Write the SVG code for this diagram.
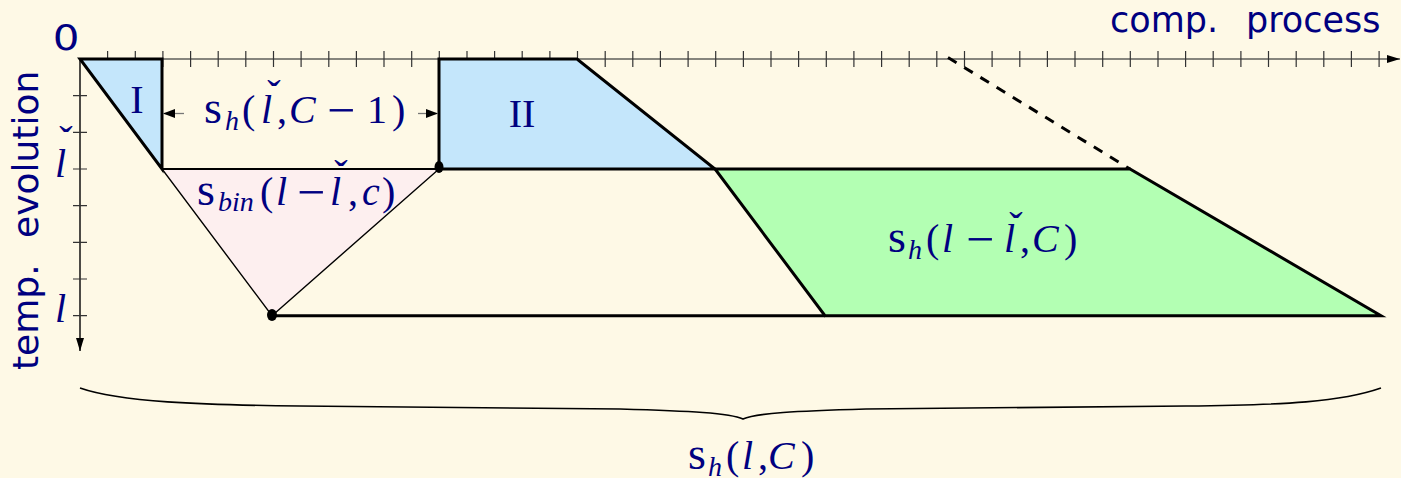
<svg xmlns="http://www.w3.org/2000/svg" width="1401" height="478" viewBox="0 0 1401 478">
<style>
.bg{fill:#fef9e6}
.ax{stroke:#5e5e5a;stroke-width:1.4;fill:none}
.tk{stroke:#333;stroke-width:1.2}
.thick{stroke:#000;stroke-width:3;fill:none;stroke-linejoin:miter}
.blue{fill:#c4e6fb;stroke:#000;stroke-width:3}
.green{fill:#b3ffb3;stroke:#000;stroke-width:3}
.pink{fill:#fdefef;stroke:#000;stroke-width:1.4}
.sans{font-family:"DejaVu Sans",sans-serif;fill:#000080}
.m{font-family:"Liberation Serif",serif;font-size:40px;fill:#000080}
.it{font-style:italic}
.s{font-size:46px}
.sub{font-size:28px;font-style:italic}
.mi{font-size:50px}
</style>
<defs>
<marker id="ah" viewBox="0 0 12 9" refX="12" refY="4.5" markerWidth="12" markerHeight="9" orient="auto" markerUnits="userSpaceOnUse"><path d="M0,0 L12,4.5 L0,9 Z" fill="#000"/></marker>
<marker id="axh" viewBox="0 0 13 8" refX="13" refY="4" markerWidth="13" markerHeight="8" orient="auto" markerUnits="userSpaceOnUse"><path d="M0,0 L13,4 L0,8 Z" fill="#000"/></marker>
</defs>
<rect class="bg" x="0" y="0" width="1401" height="478"/>

<g id="axes">
<line class="ax" x1="80" y1="59" x2="1400" y2="59" marker-end="url(#axh)"/>
<line x1="80" y1="59" x2="80" y2="351" stroke="#000" stroke-width="1.4" marker-end="url(#axh)"/>
<path class="tk" d="M107.6,51V67M135.3,51V67M162.9,51V67M190.6,51V67M218.2,51V67M245.8,51V67M273.5,51V67M301.1,51V67M328.8,51V67M356.4,51V67M384,51V67M411.7,51V67M439.3,51V67M467,51V67M494.6,51V67M522.2,51V67M549.9,51V67M577.5,51V67M605.2,51V67M632.8,51V67M660.4,51V67M688.1,51V67M715.7,51V67M743.4,51V67M771,51V67M798.6,51V67M826.3,51V67M853.9,51V67M881.6,51V67M909.2,51V67M936.8,51V67M964.5,51V67M992.1,51V67M1019.8,51V67M1047.4,51V67M1075,51V67M1102.7,51V67M1130.3,51V67M1158,51V67M1185.6,51V67M1213.2,51V67M1240.9,51V67M1268.5,51V67M1296.2,51V67M1323.8,51V67M1351.4,51V67M1379.1,51V67"/>
<path class="tk" d="M73,95.7H87M73,132.3H87M73,169H87M73,205.7H87M73,242.3H87M73,279H87M73,315.7H87"/>
</g>

<g id="node-I"><polygon class="blue" points="80,59 162,59 162,169"/></g>
<g id="node-bin"><polygon class="pink" points="162,169 439,169 272,315.7"/></g>
<g id="node-II"><polygon class="blue" points="439,59 577,59 715,169 439,169"/></g>
<g id="node-green"><polygon class="green" points="715,169 1130,169 1381,315.7 825,315.7"/></g>

<g id="connectors">
<line x1="162" y1="169" x2="439" y2="169" stroke="#000" stroke-width="2"/>
<line class="thick" x1="272" y1="315.7" x2="825" y2="315.7"/>
<line class="thick" x1="948" y1="57.5" x2="1130" y2="169" stroke-dasharray="10,9"/>
<line x1="184" y1="113.5" x2="163" y2="113.5" stroke="#777" stroke-width="1.3" marker-end="url(#ah)"/>
<line x1="418" y1="113.5" x2="438" y2="113.5" stroke="#777" stroke-width="1.3" marker-end="url(#ah)"/>
<ellipse cx="439" cy="167" rx="4.5" ry="6" fill="#000"/>
<ellipse cx="272" cy="315" rx="5" ry="6" fill="#000"/>
<path d="M80,388 C120,402 200,405 300,406 L620,409 C690,411 730,413 743,419 C756,413 796,411 866,409 L1186,406 C1286,405 1341,402 1381,388" fill="none" stroke="#000" stroke-width="1.6"/>
</g>

<g id="labels">
<text class="sans" transform="translate(66,50) scale(1.2,1)" font-size="35" text-anchor="middle">0</text>
<text class="sans" font-size="35" y="32"><tspan x="1110">comp.</tspan><tspan x="1246">process</tspan></text>
<text class="sans" font-size="36" transform="translate(38,370) rotate(-90)"><tspan x="0">temp.</tspan><tspan x="132">evolution</tspan></text>

<text class="m it" x="55" y="177" font-size="44">l</text>
<text class="m" x="66" y="154" font-size="42" text-anchor="middle">ˇ</text>
<text class="m it" x="55" y="322" font-size="42">l</text>

<text class="m" x="137" y="113" font-size="42" text-anchor="middle">I</text>
<text class="m" x="522" y="127" font-size="42" text-anchor="middle">II</text>

<text class="m" y="123"><tspan class="s" x="204">s</tspan><tspan class="sub" x="225" y="130">h</tspan><tspan x="242" y="123">(</tspan><tspan class="it" x="261">l</tspan><tspan x="277">,</tspan><tspan class="it" x="289">C</tspan><tspan class="mi" x="327" y="127">−</tspan><tspan x="367" y="123">1</tspan><tspan x="392">)</tspan></text>
<text class="m" x="274" y="108" text-anchor="middle">ˇ</text>

<text class="m" y="205"><tspan class="s" x="197">s</tspan><tspan class="sub" x="218" y="211">bin</tspan><tspan x="260" y="205">(</tspan><tspan class="it" x="276">l</tspan><tspan class="mi" x="297" y="209">−</tspan><tspan class="it" x="330" y="205">l</tspan><tspan x="348">,</tspan><tspan class="it" x="362">c</tspan><tspan x="382">)</tspan></text>
<text class="m" x="341" y="188" text-anchor="middle">ˇ</text>

<text class="m" y="252"><tspan class="s" x="888">s</tspan><tspan class="sub" x="908" y="259">h</tspan><tspan x="926" y="252">(</tspan><tspan class="it" x="942">l</tspan><tspan class="mi" x="966" y="256">−</tspan><tspan class="it" x="1004" y="252">l</tspan><tspan x="1020">,</tspan><tspan class="it" x="1032">C</tspan><tspan x="1064">)</tspan></text>
<text class="m" x="1016" y="240" text-anchor="middle">ˇ</text>

<text class="m" y="469"><tspan class="s" x="688">s</tspan><tspan class="sub" x="708" y="476">h</tspan><tspan x="726" y="469">(</tspan><tspan class="it" x="742">l</tspan><tspan x="758">,</tspan><tspan class="it" x="768">C</tspan><tspan x="801">)</tspan></text>
</g>
</svg>
